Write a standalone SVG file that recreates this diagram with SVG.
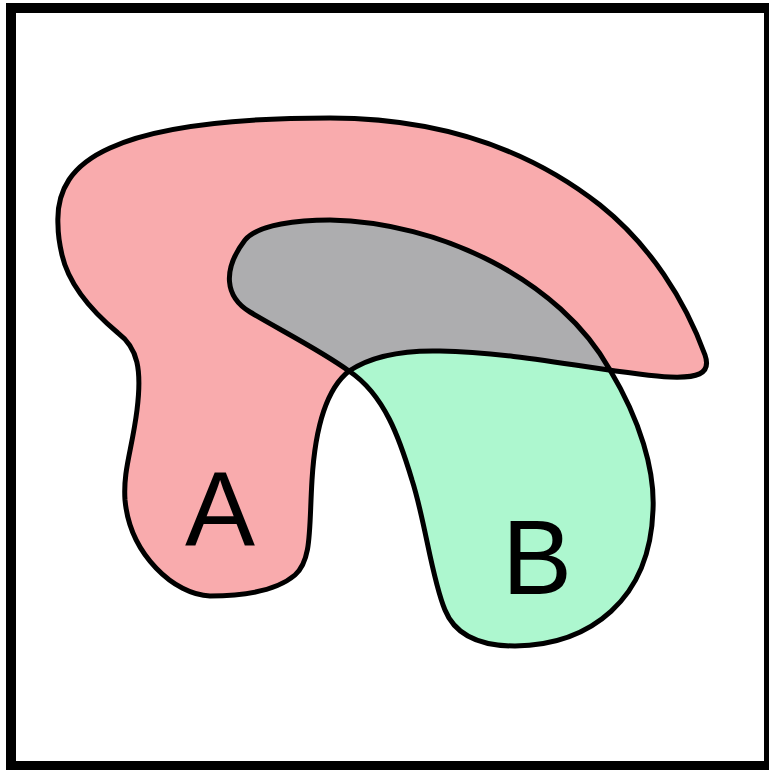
<svg xmlns="http://www.w3.org/2000/svg" width="769" height="770" viewBox="0 0 769 770">
<style>
.outline{fill:none;stroke:#000;stroke-width:5;stroke-linejoin:round}
.lbl{font-family:"Liberation Sans",Arial,sans-serif;font-size:105px;fill:#000;text-anchor:middle}
</style>
<defs>
<path id="pa" d="M 58,225 C 56,190 72,165 110,148 C 160,125 240,118 330,118 C 440,118 530,150 600,205 C 650,245 685,300 705,355 C 712,375 695,378 670,377 C 620,375 520,352 440,351 C 400,350 370,357 349,371 C 325,390 315,430 312,480 C 309,530 312,560 295,575 C 275,592 240,596 210,596 C 175,595 130,555 125,500 C 123,470 132,450 137,410 C 142,370 138,348 118,333 C 100,318 70,290 62,255 C 59,242 58,232 58,225 Z"/>
<path id="pb" d="M 349,371 C 320,350 280,330 250,312 C 225,297 222,270 245,240 C 258,224 300,220 330,220 C 440,222 560,280 610,370 C 640,420 655,470 653,510 C 650,600 590,645 515,646 C 480,646 455,635 445,610 C 432,580 425,520 412,480 C 400,440 385,395 349,371 Z"/>
<clipPath id="clipA"><use href="#pa"/></clipPath>
</defs>
<rect x="11" y="8" width="758" height="758" fill="#fff" stroke="#000" stroke-width="10"/>
<g id="A">
<use href="#pa" fill="#f9abad"/>
</g>
<g id="B">
<use href="#pb" fill="#adf7cf"/>
</g>
<g id="AB">
<use href="#pb" fill="#adadaf" clip-path="url(#clipA)"/>
</g>
<g id="outlines">
<use href="#pa" class="outline"/>
<use href="#pb" class="outline"/>
</g>
<text class="lbl" x="220" y="545">A</text>
<text class="lbl" x="537" y="594">B</text>
</svg>
